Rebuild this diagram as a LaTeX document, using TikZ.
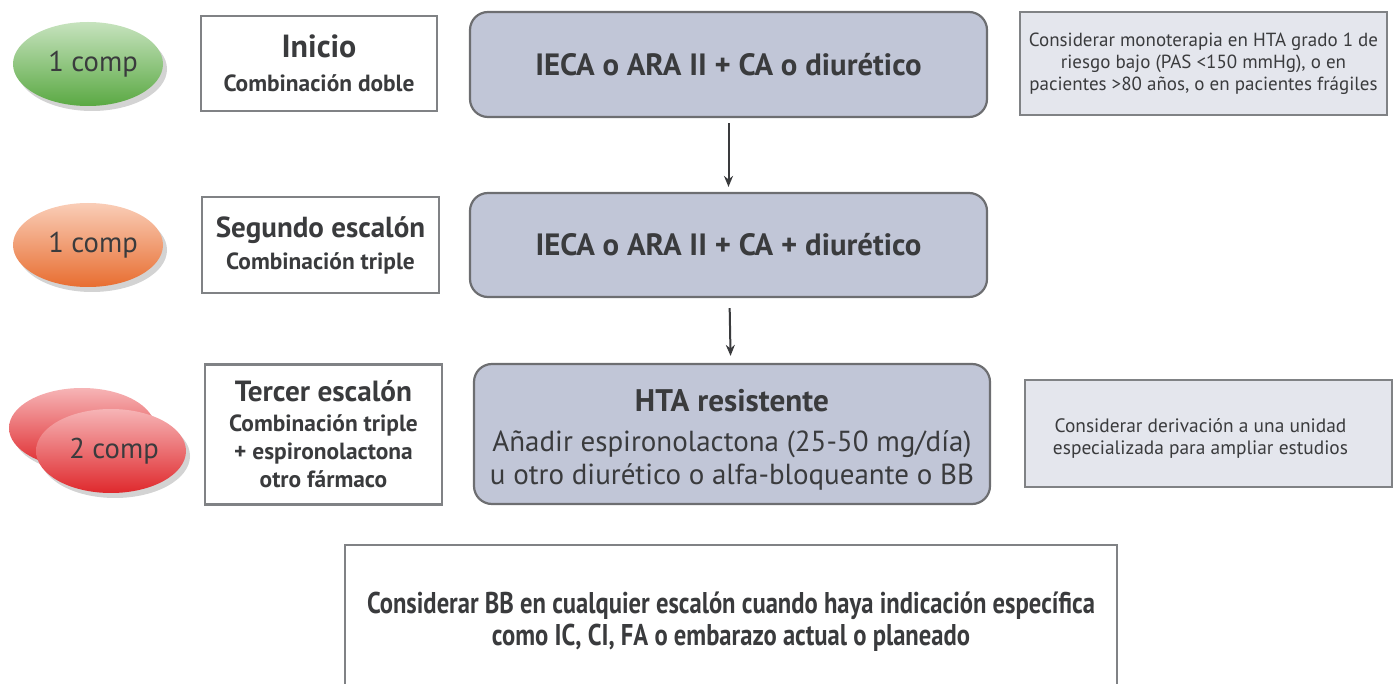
\documentclass[tikz,border=0pt]{standalone}
\usepackage{fontspec}
\setmainfont{PT Sans}
\newfontfamily\narrowfont[FakeStretch=0.82]{PT Sans}
\usepackage{tikz}
\usetikzlibrary{shapes.geometric, arrows.meta, positioning, shadows}
\definecolor{txtdark}{HTML}{3A3B3D}
\definecolor{boxgray}{HTML}{808285}
\definecolor{edgegray}{HTML}{6D6E71}
\definecolor{drugfill}{HTML}{C1C6D7}
\definecolor{notefill}{HTML}{E4E6ED}
\definecolor{pillgreen}{HTML}{5DAE45}
\definecolor{pillorange}{HTML}{EF7132}
\definecolor{pillred}{HTML}{E62A2E}

\begin{document}
\begin{tikzpicture}[
    x=0.5pt, y=-0.5pt,
    pill/.style={ellipse, minimum width=75pt, minimum height=42pt, inner sep=0pt,
        top color=#1!35!white, middle color=#1, bottom color=#1!97!black,
        drop shadow={shadow xshift=2pt, shadow yshift=-2.5pt, opacity=0.35},
        text=txtdark, font=\fontsize{14.3}{16}\selectfont},
    stepbox/.style={rectangle, draw=boxgray, line width=1.3pt, fill=white, align=center,
        text=txtdark, inner sep=2pt},
    drugbox/.style={rectangle, rounded corners=9pt, draw=edgegray, line width=1.1pt,
        fill=drugfill, align=center, text=txtdark},
    notebox/.style={rectangle, draw=boxgray, line width=1.3pt, fill=notefill, align=center,
        text=txtdark, font=\fontsize{9.5}{11}\selectfont},
    arrow/.style={-{Stealth[length=5.5pt, width=4.5pt]}, line width=1pt, draw=txtdark}
]
\clip (0,0) rectangle (1394,684);

% Pills (left side)
\node[pill=pillgreen] (P1) at (88,64) {\hspace*{5pt}1 comp};
\node[pill=pillorange] (P2) at (88,245) {\hspace*{5pt}1 comp};
\node[pill=pillred, minimum width=73pt, minimum height=40pt] (P3b) at (82,428) {};
\node[pill=pillred] (P3) at (111,451) {\hspace*{3pt}2 comp};

% Steps
\node[stepbox, minimum width=118pt, minimum height=47.5pt, font=\fontsize{11.7}{14}\bfseries] (S1) at (319,63.5)
    {{\fontsize{16}{18}\selectfont Inicio}\\[3pt]Combinación doble};
\node[stepbox, minimum width=118.5pt, minimum height=48pt, font=\fontsize{11.7}{14}\bfseries] (S2) at (320.5,245)
    {{\fontsize{14.5}{17}\selectfont Segundo escalón}\\[2pt]Combinación triple};
\node[stepbox, minimum width=118.5pt, minimum height=70pt, font=\fontsize{11.7}{14}\bfseries] (S3) at (323.5,434.5)
    {{\fontsize{14.6}{17}\selectfont Tercer escalón}\\[1pt]
     Combinación triple\\+ espironolactona\\otro fármaco};

% Treatment
\node[drugbox, minimum width=258.5pt, minimum height=52.5pt, font=\fontsize{15.4}{18}\bfseries] (T1) at (728.5,64.5)
    {IECA o ARA II + CA o diurético};
\node[drugbox, minimum width=258.5pt, minimum height=52pt, font=\fontsize{15.4}{18}\bfseries] (T2) at (728.5,245)
    {IECA o ARA II + CA + diurético};
\node[drugbox, minimum width=258pt, minimum height=70pt, font=\fontsize{14.5}{16.5}\selectfont] (T3) at (732,434)
    {{\fontsize{15.6}{18}\bfseries\rule{0pt}{16.5pt}HTA resistente}\\[3.5pt]
     Añadir espironolactona (25-50 mg/día)\\u otro diurético o alfa-bloqueante o BB};

% Notes (right side)
\node[notebox, minimum width=183.5pt, minimum height=51.5pt] (N1) at (1203.5,63.5)
    {Considerar monoterapia en HTA grado 1 de\\riesgo bajo (PAS <150 mmHg), o en\\pacientes >80 años, o en pacientes frágiles};
\node[notebox, minimum width=183.5pt, minimum height=53.5pt, font=\fontsize{9.7}{11}\selectfont] (N2) at (1208.5,433.5)
    {\hspace*{-8pt}\rule{0pt}{12pt}Considerar derivación a una unidad\\\hspace*{-8pt}especializada para ampliar estudios};

% Bottom note
\node[stepbox, minimum width=386pt, minimum height=77pt, font=\narrowfont\fontsize{15}{16}\bfseries] (BB) at (731,622)
    {Considerar BB en cualquier escalón cuando haya indicación específica\\como IC, CI, FA o embarazo actual o planeado};

% Arrows
\draw[arrow, shorten <=2.5pt, shorten >=2.5pt] (T1) -- (T2);
\draw[arrow, shorten <=5pt, shorten >=3.5pt] (T2) -- (T3);

\end{tikzpicture}
\end{document}
